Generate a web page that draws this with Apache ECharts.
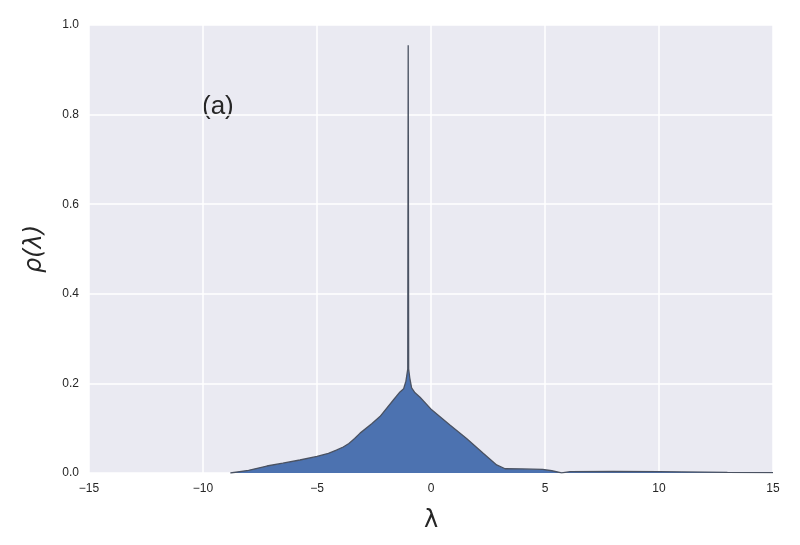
<!DOCTYPE html>
<html>
<head>
<meta charset="utf-8">
<script src="https://cdn.jsdelivr.net/npm/echarts@6/dist/echarts.min.js"></script>
<style>html,body{margin:0;padding:0;background:#fff;}#c{width:800px;height:545px;}</style>
</head>
<body>
<div id="c"></div>
<script>
// λ values and density ρ(λ)
var lambdaVals = [-8.8, -8.0, -7.2, -6.5, -5.75, -5.0, -4.5, -4.15, -3.85, -3.6, -3.35, -3.11, -2.6, -2.24, -1.65, -1.36, -1.2, -1.1, -1.05, -1.02, -1.0, -0.98, -0.93, -0.85, -0.7, -0.48, 0.03, 0.83, 1.56, 2.29, 2.88, 3.25, 4.0, 4.9, 5.3, 5.73, 6.1, 8.0, 10.0, 11.0, 13.0, 15.0];
var rhoVals    = [0, 0.006, 0.0156, 0.022, 0.029, 0.037, 0.044, 0.051, 0.058, 0.066, 0.077, 0.089, 0.110, 0.126, 0.163, 0.181, 0.188, 0.205, 0.222, 0.232, 0.955, 0.232, 0.212, 0.19, 0.179, 0.169, 0.141, 0.107, 0.077, 0.044, 0.018, 0.0095, 0.009, 0.008, 0.005, 0.0005, 0.003, 0.0035, 0.003, 0.0025, 0.0015, 0.001];
var xTicks = [-15, -10, -5, 0, 5, 10, 15];
var yTicks = [0.0, 0.2, 0.4, 0.6, 0.8, 1.0];
var panelLabel = '(a)';

var data = lambdaVals.map(function (x, i) { return [x, rhoVals[i]]; });
var chart = echarts.init(document.getElementById('c'), null, {renderer: 'canvas'});
var txt = '#262626';
chart.setOption({
  animation: false,
  backgroundColor: '#ffffff',
  grid: {left: 89, right: 27, top: 25, bottom: 72, show: true, backgroundColor: '#EAEAF2', borderWidth: 0},
  xAxis: {
    type: 'value', min: xTicks[0], max: xTicks[xTicks.length - 1], interval: 5,
    axisLine: {show: false}, axisTick: {show: false},
    splitLine: {show: true, lineStyle: {color: '#ffffff', width: 1.5}},
    axisLabel: {color: txt, fontSize: 12, fontFamily: 'Liberation Sans, Arial, sans-serif', margin: 10,
      formatter: function (v) { return String(v).replace('-', '\u2212'); }},
    name: 'λ', nameLocation: 'middle', nameGap: 36,
    nameTextStyle: {color: txt, fontSize: 24, fontFamily: 'DejaVu Sans, sans-serif'}
  },
  yAxis: {
    type: 'value', min: yTicks[0], max: yTicks[yTicks.length - 1], interval: 0.2,
    axisLine: {show: false}, axisTick: {show: false},
    splitLine: {show: true, lineStyle: {color: '#ffffff', width: 1.5}},
    axisLabel: {color: txt, fontSize: 12, fontFamily: 'Liberation Sans, Arial, sans-serif', margin: 10,
      formatter: function (v) { return v.toFixed(1); }},
    name: 'ρ(λ)', nameLocation: 'middle', nameGap: 42,
    nameTextStyle: {color: txt, fontSize: 24, fontFamily: 'DejaVu Sans, sans-serif', fontStyle: 'italic'}
  },
  graphic: [{
    type: 'text', left: 202, top: 94,
    style: {text: panelLabel, fill: txt, fontSize: 26, fontFamily: 'Liberation Sans, Arial, sans-serif'}
  }],
  series: [{
    type: 'line', data: data, showSymbol: false, symbol: 'none', smooth: false,
    lineStyle: {color: '#4a5262', width: 1.3},
    areaStyle: {color: '#4C72B0', opacity: 1},
    z: 3
  }]
});
</script>
</body>
</html>
